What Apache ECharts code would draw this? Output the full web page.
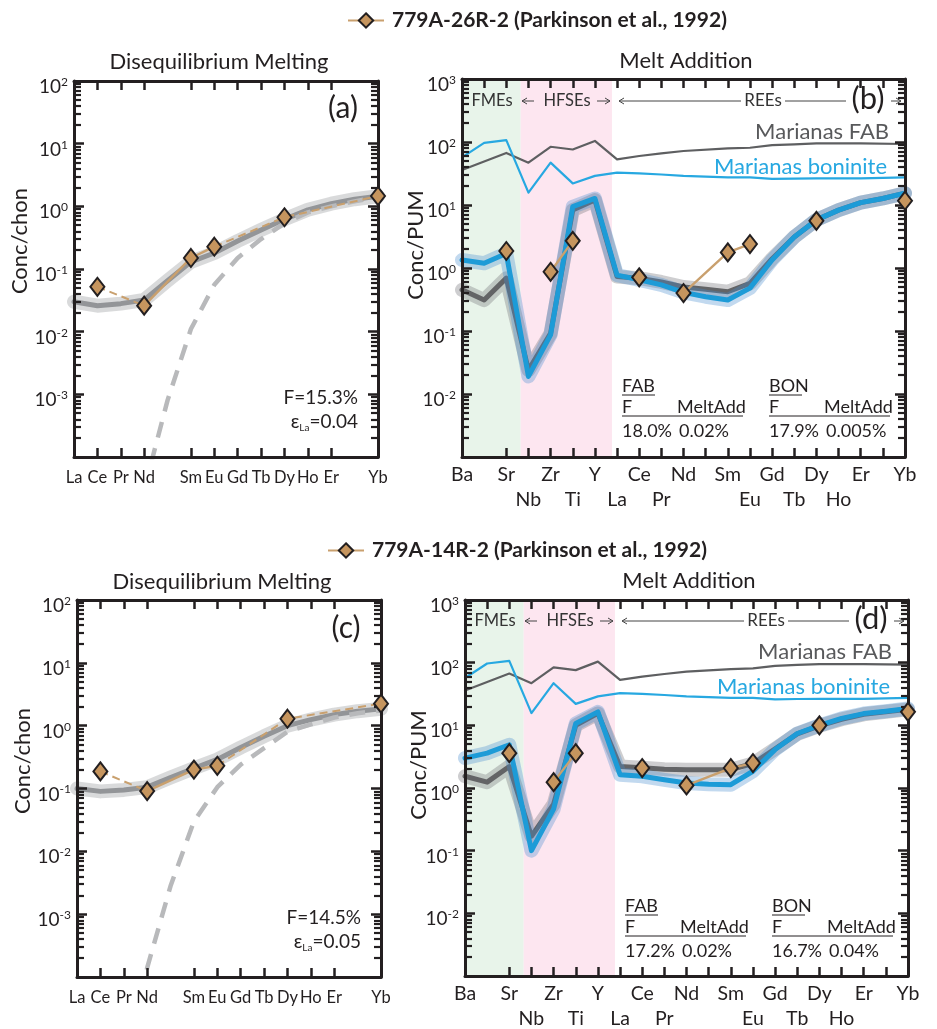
<!DOCTYPE html>
<html>
<head>
<meta charset="utf-8">
<script src="https://cdn.jsdelivr.net/npm/echarts@6/dist/echarts.min.js"></script>
<style>
  html, body { margin: 0; padding: 0; background: #fff; }
  #chart { width: 937px; height: 1029px; }
</style>
</head>
<body>
<div id="chart"></div>
<script>
// element order, disequilibrium panels (Pm, Tm unlabelled)
var reeNames = ['La', 'Ce', 'Pr', 'Nd', 'Pm', 'Sm', 'Eu', 'Gd', 'Tb', 'Dy', 'Ho', 'Er', 'Tm', 'Yb'];
var reeShown = ['La', 'Ce', 'Pr', 'Nd', 'Sm', 'Eu', 'Gd', 'Tb', 'Dy', 'Ho', 'Er', 'Yb'];
// element order, melt addition panels
var spiderNames = ['Ba', 'Pb', 'Sr', 'Nb', 'Zr', 'Ti', 'Y', 'La', 'Ce', 'Pr', 'Nd', 'Pm', 'Sm', 'Eu', 'Gd', 'Tb', 'Dy', 'Ho', 'Er', 'Tm', 'Yb'];
var spiderHidden = ['Pm', 'Tm'];

var sample26 = '779A-26R-2 (Parkinson et al., 1992)';
var sample14 = '779A-14R-2 (Parkinson et al., 1992)';

// (a) 779A-26R-2, chondrite normalised
var modelA = [0.030, 0.026, 0.028, 0.032, 0.065, 0.13, 0.18, 0.28, 0.42, 0.62, 0.88, 1.1, 1.3, 1.45];
var dashA = [null, null, null, 3e-5, 8e-4, 0.011, 0.056, 0.15, 0.30, 0.54, 0.80, 1.0, 1.2, 1.4];
var obsA = [null, 0.052, null, 0.026, null, 0.15, 0.227, null, null, 0.67, null, null, null, 1.46];

// (c) 779A-14R-2, chondrite normalised
var modelC = [0.10, 0.09, 0.095, 0.105, 0.15, 0.21, 0.29, 0.45, 0.68, 1.0, 1.25, 1.5, 1.7, 1.85];
var dashC = [null, null, 1e-6, 1.4e-4, 0.0028, 0.03, 0.105, 0.24, 0.44, 0.8, 1.05, 1.35, 1.58, 1.75];
var obsC = [null, 0.187, null, 0.091, null, 0.20, 0.23, null, null, 1.29, null, null, null, 2.24];

// Marianas reference melts (PUM normalised)
var fabRef = [36, 49, 67, 47, 84, 76, 104, 53, 60, 66, 72, null, 79, 81, 89, 92, 95, 95, 95, null, 93];
var bonRef = [57, 97, 107, 15.7, 47, 22, 29, 32.6, 31.7, 30.5, 29, null, 27.5, 27.5, 26, 26.3, 26.5, 26.5, 26.5, null, 27.5];

// (b) melt addition models + 779A-26R-2
var fabModelB = [0.45, 0.31, 0.69, 0.024, 0.092, 8.3, 12, 0.73, 0.69, 0.6, 0.5, 0.46, 0.42, 0.57, 1.4, 3.1, 5.8, 8.3, 10.9, 12.7, 15.4];
var bonModelB = [1.34, 1.19, 1.7, 0.019, 0.087, 9.4, 12.7, 0.77, 0.65, 0.54, 0.41, 0.35, 0.31, 0.48, 1.34, 3.1, 5.8, 8.3, 10.9, 12.7, 15.4];
var obsB = [null, null, 1.86, null, 0.87, 2.7, null, null, 0.71, null, 0.40, null, 1.77, 2.4, null, null, 5.6, null, null, null, 11.7];

// (d) melt addition models + 779A-14R-2
var fabModelD = [1.54, 1.24, 2.2, 0.17, 0.55, 10, 15.5, 2.2, 2.1, 2.0, 1.96, 1.95, 1.96, 2.46, 4.2, 7.3, 9.8, 12.5, 15, 16.5, 18];
var bonModelD = [3.0, 3.6, 4.9, 0.1, 0.46, 10.7, 16.4, 1.63, 1.54, 1.35, 1.2, 1.15, 1.13, 1.85, 4.1, 7.4, 10, 12.9, 15.4, 16.8, 18.6];
var obsD = [null, null, 3.6, null, 1.24, 3.6, null, null, 2.08, null, 1.1, null, 2.08, 2.5, null, null, 10, null, null, null, 16.4];

// which observed points are joined by solid / dashed tan lines
var solidRee = [[3, 5, 6]];
var dashedRee = [[1, 3], [6, 9, 13]];
var solidSpider = [[4, 5], [10, 12, 13]];

// group shading limits on the melt addition x axis
var fmeEnd = 2.65, hfseEnd = 6.77;

var FONT = 'Lato, "Open Sans", sans-serif';
var INK = '#231f20';
var TAN = '#c9a06e';
var DIA = '#c6955e';

var chart = echarts.init(document.getElementById('chart'));

function pts(vals) {
  var out = [];
  vals.forEach(function (v, i) { if (v != null) out.push([i, v]); });
  return out;
}
function linked(vals, groups) {
  var out = [];
  groups.forEach(function (g, k) {
    if (k > 0) out.push([g[0], '-']);
    g.forEach(function (i) { out.push([i, vals[i]]); });
  });
  return out;
}
// all observed points, only the solid groups are joined
function obsLine(vals, groups) {
  var pairs = {};
  groups.forEach(function (g) {
    for (var j = 1; j < g.length; j++) pairs[g[j - 1] + '-' + g[j]] = true;
  });
  var out = [], prev = null;
  vals.forEach(function (v, i) {
    if (v == null) return;
    if (prev != null && !pairs[prev + '-' + i]) out.push([i, '-']);
    out.push([i, v]);
    prev = i;
  });
  return out;
}
// log minor tick values (2..9 x 10^n)
function minorVals(lo, hi) {
  var out = [];
  for (var d = lo; d < hi; d++) for (var m = 2; m <= 9; m++) out.push(m * Math.pow(10, d));
  return out;
}

var grids = [], xAxes = [], yAxes = [], series = [], gfx = [], yBase = [];

var tickStyle = { color: INK, width: 2.5 };
var showRee = function (i) { return reeShown.indexOf(reeNames[i]) >= 0; };

function addPanel(box, kind, yLo, yHi) {
  var k = grids.length;
  grids.push({ left: box[0], top: box[1], width: box[2], height: box[3], outerBoundsMode: 'none' });
  ['bottom', 'top'].forEach(function (p) {
    var ax = {
      gridIndex: k, position: p, z: 10,
      axisLine: { show: true, onZero: false, lineStyle: { color: INK, width: 3 } },
      splitLine: { show: false }
    };
    if (kind === 'ree') {
      ax.type = 'category'; ax.data = reeNames; ax.boundaryGap = false;
      ax.axisTick = { show: true, inside: true, length: 9, lineStyle: tickStyle, interval: showRee };
      ax.axisLabel = p === 'top' ? { show: false } :
        { interval: showRee, fontSize: 16.5, fontFamily: FONT, color: INK, margin: 12 };
    } else {
      ax.type = 'value'; ax.min = 0; ax.max = spiderNames.length - 1; ax.interval = 1;
      ax.axisTick = { show: true, inside: true, length: 9, lineStyle: tickStyle };
      ax.axisLabel = p === 'top' ? { show: false } : {
        fontSize: 19.5, fontFamily: FONT, color: INK, margin: 5, lineHeight: 25,
        showMinLabel: true, showMaxLabel: true,
        formatter: function (v) {
          var i = Math.round(v), n = spiderNames[i];
          if (spiderHidden.indexOf(n) >= 0) return '';
          return i % 2 ? '\n' + n : n;
        }
      };
    }
    xAxes.push(ax);
  });
  yBase.push(yAxes.length);
  ['left', 'right'].forEach(function (p) {
    yAxes.push({
      type: 'log', logBase: 10, gridIndex: k, position: p, min: Math.pow(10, yLo), max: Math.pow(10, yHi),
      splitNumber: 10, z: 10,
      axisLine: { show: true, onZero: false, lineStyle: { color: INK, width: 3 } },
      axisTick: { show: true, inside: true, length: 10, lineStyle: tickStyle },
      axisLabel: p === 'left' ? {
        margin: 6, padding: [12, 0, 0, 0],
        formatter: function (v) {
          var e = Math.round(Math.log10(v));
          return e === yLo ? '' : '{b|10}{s|' + e + '}';
        },
        rich: {
          b: { fontSize: 19, fontFamily: FONT, color: INK, lineHeight: 22 },
          s: { fontSize: 12, fontFamily: FONT, color: INK, verticalAlign: 'top', lineHeight: 12 }
        }
      } : { show: false },
      splitLine: { show: false }
    });
  });
  // companion log axes carrying only the minor ticks
  ['left', 'right'].forEach(function (p) {
    yAxes.push({
      type: 'log', logBase: 10, gridIndex: k, position: p, min: Math.pow(10, yLo), max: Math.pow(10, yHi), z: 11,
      axisLine: { show: false, onZero: false },
      axisTick: { show: true, inside: true, length: 7, lineStyle: { color: INK, width: 2.2 }, customValues: minorVals(yLo, yHi) },
      axisLabel: { show: false },
      splitLine: { show: false }
    });
  });
  return k;
}

function line(k, data, color, width, z, extra) {
  var s = {
    type: 'line', xAxisIndex: 2 * k, yAxisIndex: yBase[k], data: data, z: z,
    showSymbol: false, silent: true, animation: false,
    lineStyle: { color: color, width: width, cap: 'round', join: 'round' }
  };
  if (extra) for (var key in extra) s[key] = extra[key];
  return s;
}
function observed(k, name, vals, groups) {
  return {
    type: 'line', name: name, xAxisIndex: 2 * k, yAxisIndex: yBase[k], z: 12, animation: false,
    data: obsLine(vals, groups), connectNulls: false,
    symbol: 'diamond', symbolSize: [14, 18], showSymbol: true,
    itemStyle: { color: DIA, borderColor: INK, borderWidth: 2 },
    lineStyle: { color: TAN, width: 2.4 }
  };
}

function reePanel(box, model, dash, obs, name) {
  var k = addPanel(box, 'ree', -4, 2);
  series.push(line(k, pts(model), 'rgba(165,167,170,0.42)', 14, 2));
  series.push(line(k, pts(model), '#939598', 5, 3));
  var d = line(k, pts(dash), '#b8b9bb', 4.5, 4);
  d.lineStyle.type = [16, 11]; d.lineStyle.cap = 'butt';
  series.push(d);
  var t = line(k, linked(obs, dashedRee), TAN, 2, 5);
  t.lineStyle.type = [8, 5]; t.lineStyle.cap = 'butt';
  series.push(t);
  series.push(observed(k, name, obs, solidRee));
}

function spiderPanel(box, fabModel, bonModel, obs, name) {
  var k = addPanel(box, 'spider', -3, 3);
  series.push(line(k, [], INK, 1, 1, {
    markArea: {
      silent: true,
      data: [
        [{ xAxis: 0, itemStyle: { color: '#e8f4ea' } }, { xAxis: fmeEnd }],
        [{ xAxis: fmeEnd, itemStyle: { color: '#fde6f0' } }, { xAxis: hfseEnd }]
      ]
    }
  }));
  series.push(line(k, pts(fabRef), '#5e5f61', 2.2, 2));
  series.push(line(k, pts(bonRef), '#27a8e1', 2.2, 2));
  series.push(line(k, pts(fabModel), 'rgba(118,120,124,0.36)', 14, 3));
  series.push(line(k, pts(fabModel), '#636466', 5, 3));
  series.push(line(k, pts(bonModel), 'rgba(70,140,205,0.33)', 14, 4));
  series.push(line(k, pts(bonModel), '#1d9bd7', 5, 4));
  series.push(observed(k, name, obs, solidSpider));
}

reePanel([74, 81, 304, 376], modelA, dashA, obsA, sample26);
spiderPanel([462, 79, 443, 378], fabModelB, bonModelB, obsB, sample26);
reePanel([77, 600, 304, 377], modelC, dashC, obsC, sample14);
spiderPanel([465, 600, 443, 376], fabModelD, bonModelD, obsD, sample14);

// ---- text annotations ----
function txt(x, y, s, size, o) {
  o = o || {};
  return {
    type: 'text', x: x, y: y, rotation: o.rot || 0, z: 20,
    style: {
      text: s, fontSize: size, fontFamily: FONT, fill: o.fill || INK, fontWeight: o.weight || 'normal',
      align: o.align || 'center', verticalAlign: 'middle', rich: o.rich
    }
  };
}
function seg(x1, y1, x2, y2, w, c) {
  return { type: 'line', z: 20, shape: { x1: x1, y1: y1, x2: x2, y2: y2 }, style: { stroke: c || INK, lineWidth: w || 1 } };
}
function head(x, y, dir) {
  return { type: 'polyline', z: 20, shape: { points: [[x - 5 * dir, y - 3], [x, y], [x - 5 * dir, y + 3]] }, style: { stroke: '#444', fill: null, lineWidth: 1 } };
}

function reeText(dx, dy, label, F, eps) {
  gfx.push(txt(219 + dx, 62 + dy, 'Disequilibrium Melting', 22));
  gfx.push(txt(20 + dx, 241 + dy, 'Conc/chon', 22, { rot: Math.PI / 2 }));
  gfx.push(txt(343 + dx, 108 + dy, label, 30));
  gfx.push(txt(358 + dx, 398 + dy, 'F=' + F, 19, { align: 'right' }));
  gfx.push(txt(358 + dx, 422 + dy, '{e|ε}{s|La}{e|=' + eps + '}', 19, {
    align: 'right',
    rich: {
      e: { fontSize: 19, fontFamily: FONT, fill: INK, lineHeight: 22 },
      s: { fontSize: 10, fontFamily: FONT, fill: INK, verticalAlign: 'bottom', lineHeight: 10 }
    }
  }));
}
function spiderText(dx, dy, label, fabF, fabAdd, bonF, bonAdd) {
  var y = 101 + dy;
  gfx.push(txt(686 + dx, 61 + dy, 'Melt Addition', 22));
  gfx.push(txt(416 + dx, 245 + dy, 'Conc/PUM', 22, { rot: Math.PI / 2 }));
  gfx.push(txt(492 + dx, y, 'FMEs', 16.5, { fill: '#333' }));
  gfx.push(seg(522 + dx, y, 534 + dx, y, 1, '#444'), head(522 + dx, y, -1));
  gfx.push(txt(567 + dx, y, 'HFSEs', 16.5, { fill: '#333' }));
  gfx.push(seg(597 + dx, y, 610 + dx, y, 1, '#444'), head(610 + dx, y, 1));
  gfx.push(seg(619 + dx, y, 741 + dx, y, 1, '#444'), head(619 + dx, y, -1));
  gfx.push(txt(763 + dx, y, 'REEs', 17, { fill: '#333' }));
  gfx.push(seg(785 + dx, y, 846 + dx, y, 1, '#444'));
  gfx.push(txt(868 + dx, 99 + dy, label, 31));
  gfx.push(seg(891 + dx, y, 901 + dx, y, 1, '#444'), head(901 + dx, y, 1));
  gfx.push(txt(889 + dx, 132 + dy, 'Marianas FAB', 22, { align: 'right', fill: '#58595b' }));
  gfx.push(txt(887 + dx, 167 + dy, 'Marianas boninite', 22, { align: 'right', fill: '#27a8e1' }));
  // model fit table
  [[622, 'FAB', fabF, fabAdd], [769, 'BON', bonF, bonAdd]].forEach(function (c) {
    var x = c[0] + dx;
    gfx.push(txt(x, 386 + dy, c[1], 18, { align: 'left' }));
    gfx.push(seg(x, 395 + dy, x + 33, 395 + dy, 1));
    gfx.push(txt(x, 407 + dy, 'F', 18, { align: 'left' }));
    gfx.push(txt(x + 55, 407 + dy, 'MeltAdd', 18, { align: 'left' }));
    gfx.push(seg(x, 416 + dy, x + 121, 416 + dy, 1));
    gfx.push(txt(x, 431 + dy, c[2], 18, { align: 'left' }));
    gfx.push(txt(x + 57, 431 + dy, c[3], 18, { align: 'left' }));
  });
}
reeText(0, 0, '(a)', '15.3%', '0.04');
spiderText(0, 0, '(b)', '18.0%', '0.02%', '17.9%', '0.005%');
reeText(3, 520, '(c)', '14.5%', '0.05');
spiderText(3, 520, '(d)', '17.2%', '0.02%', '16.7%', '0.04%');

var legendText = { fontFamily: FONT, fontWeight: 'bold', fontSize: 21, color: INK, padding: [0, 0, 0, 3] };
chart.setOption({
  animation: false,
  legend: [
    { data: [sample26], left: 342, top: 5, itemWidth: 36, itemHeight: 18, selectedMode: false, textStyle: legendText },
    { data: [sample14], left: 322, top: 535, itemWidth: 36, itemHeight: 18, selectedMode: false, textStyle: legendText }
  ],
  grid: grids,
  xAxis: xAxes,
  yAxis: yAxes,
  series: series,
  graphic: { elements: gfx }
});
</script>
</body>
</html>
